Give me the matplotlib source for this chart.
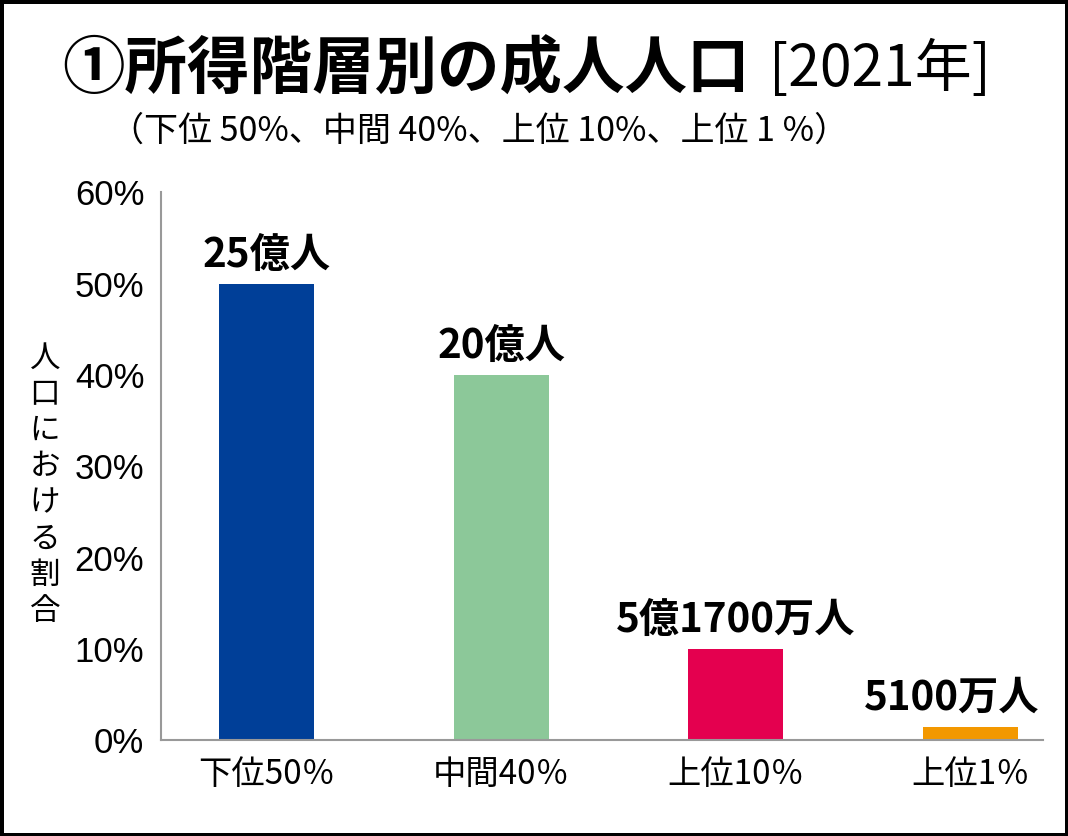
import matplotlib
matplotlib.use("Agg")
import matplotlib.pyplot as plt

plt.rcParams['font.family'] = ['Noto Sans CJK JP', 'DejaVu Sans']

# data
groups = ["下位50％", "中間40％", "上位10％", "上位1％"]
shares = [50, 40, 10, 1.4]
bar_labels = ["25億人", "20億人", "5億1700万人", "5100万人"]
colors = ["#003F98", "#8CC899", "#E4004F", "#F39800"]
yticks = [0, 10, 20, 30, 40, 50, 60]

fig = plt.figure(figsize=(10.68, 8.36), dpi=100, linewidth=5, edgecolor="black")
ax = fig.add_axes([0.1507, 0.1148, 0.8259, 0.655])

x = list(range(len(groups)))
ax.bar(x, shares, width=0.405, color=colors)
for xi, v, lab in zip(x, shares, bar_labels):
    # last label sits a bit left so it stays inside the frame
    dx = -0.08 if xi == len(groups) - 1 else 0
    ax.text(xi + dx, v + 0.9, lab, ha="center", va="bottom", fontsize=29, fontweight="bold")

ax.set_xlim(-0.452, 3.31)
ax.set_ylim(0, 60)
ax.set_yticks(yticks)
ax.set_yticklabels([f"{t}%" for t in yticks], family="Liberation Sans", fontsize=25)
ax.set_xticks(x)
ax.set_xticklabels(groups, fontsize=24)
ax.tick_params(axis="both", length=0, pad=12)
for s in ["top", "right"]:
    ax.spines[s].set_visible(False)
for s in ["left", "bottom"]:
    ax.spines[s].set_color("#999999")
    ax.spines[s].set_linewidth(1.5)

# vertical y label, stacked characters
fig.text(0.042, 0.42, "\n".join("人口における割合"), ha="center", va="center",
         fontsize=22, linespacing=1.22)

fig.text(0.058, 0.916, "①所得階層別の成人人口", ha="left", va="center",
         fontsize=45, fontweight="bold")
fig.text(0.928, 0.916, "[2021年]", ha="right", va="center", fontsize=41)
fig.text(0.103, 0.843, "（下位 50%、中間 40%、上位 10%、上位 1 %）", ha="left",
         va="center", fontsize=24.5)

fig.savefig("out.png", dpi=100, edgecolor=fig.get_edgecolor())
